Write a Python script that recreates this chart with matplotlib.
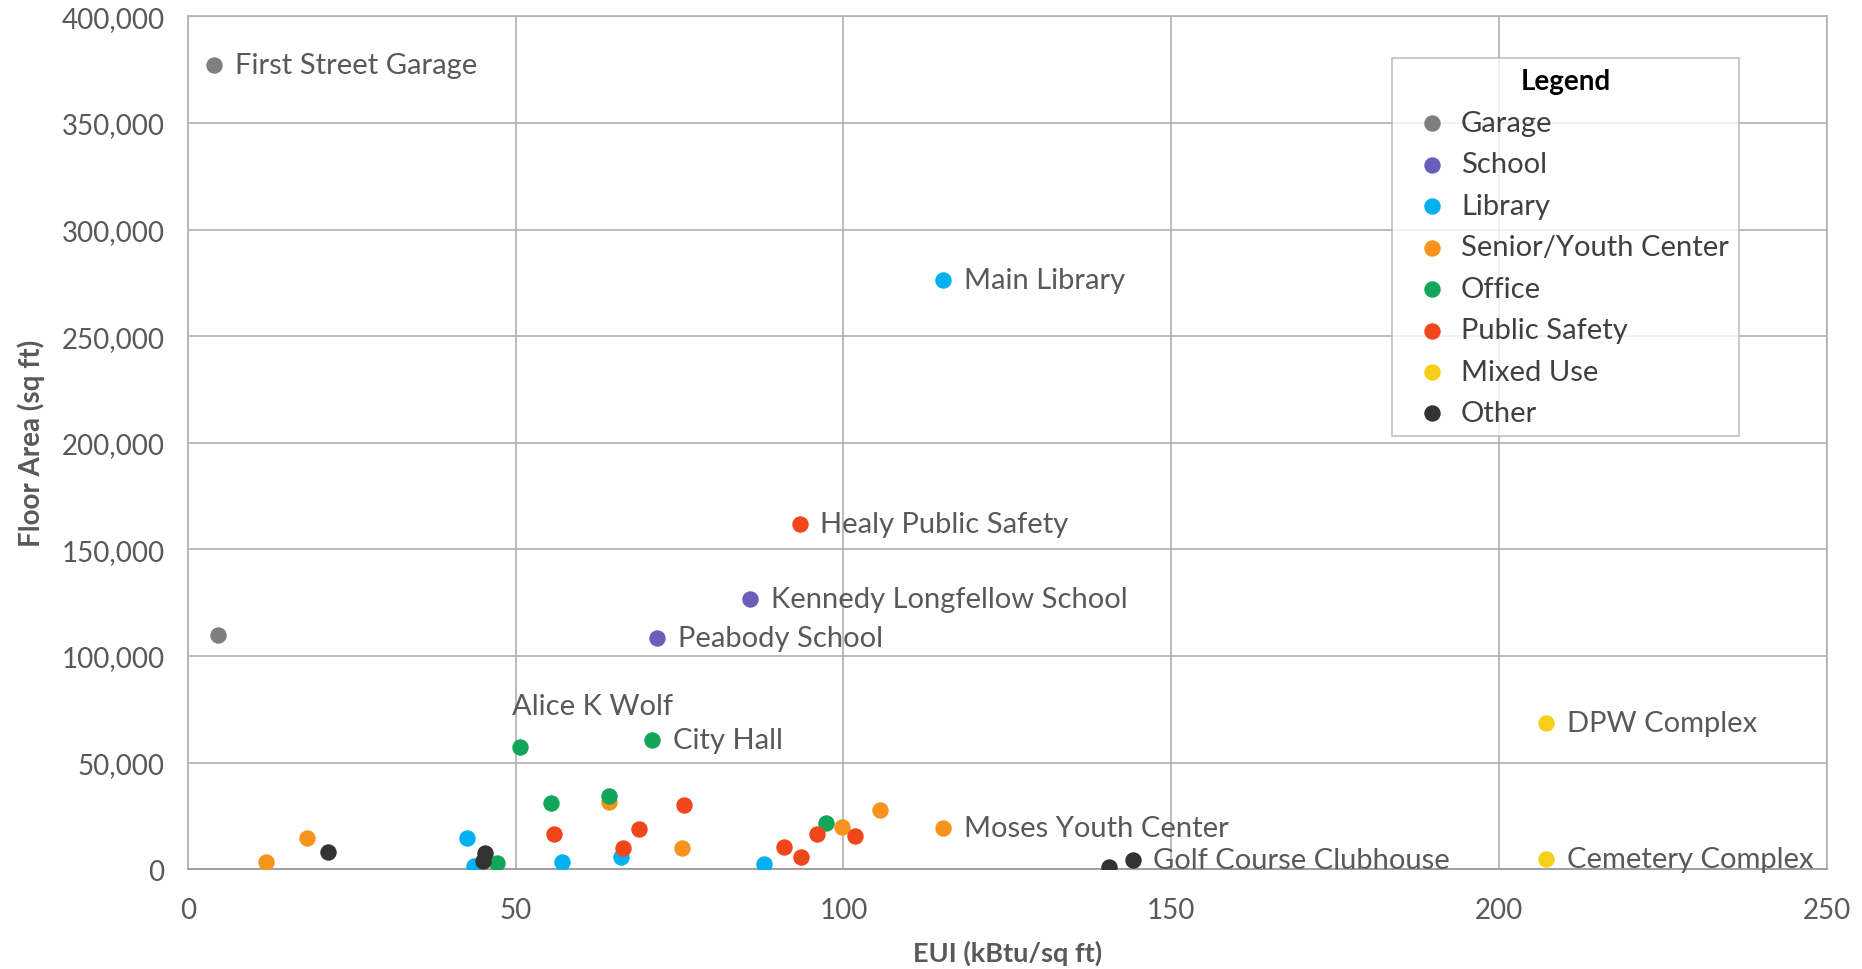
import matplotlib.pyplot as plt
from matplotlib.ticker import FuncFormatter

plt.rcParams['font.family'] = ['Lato', 'DejaVu Sans']

# building types and colours (legend order)
categories = ["Garage", "School", "Library", "Senior/Youth Center",
              "Office", "Public Safety", "Mixed Use", "Other"]
colors = ["#7f7f7f", "#6a5fb8", "#00b0f0", "#f7941d",
          "#13a65a", "#f0461c", "#f5cf1a", "#333333"]

# EUI (kBtu/sq ft), floor area (sq ft), label per building
garage_eui = [4.0, 4.5]
garage_area = [377000, 110000]
garage_lbl = ["First Street Garage", ""]

school_eui = [85.7, 71.6]
school_area = [126500, 108500]
school_lbl = ["Kennedy Longfellow School", "Peabody School"]

library_eui = [115.2, 42.5, 43.6, 57.0, 66.1, 87.8]
library_area = [276500, 14700, 1300, 3300, 5500, 2400]
library_lbl = ["Main Library", "", "", "", "", ""]

senior_eui = [11.9, 18.1, 64.2, 75.4, 99.7, 105.5, 115.2]
senior_area = [3200, 14400, 31300, 10000, 19800, 27800, 19200]
senior_lbl = ["", "", "", "", "", "", "Moses Youth Center"]

office_eui = [50.7, 70.8, 47.1, 55.4, 64.2, 97.4]
office_area = [57300, 60600, 2800, 31000, 34500, 21800]
office_lbl = ["Alice K Wolf", "City Hall", "", "", "", ""]

safety_eui = [93.3, 55.8, 66.3, 68.8, 75.7, 90.9, 93.5, 96.0, 101.8]
safety_area = [161900, 16300, 9700, 19000, 30200, 10300, 5900, 16600, 15300]
safety_lbl = ["Healy Public Safety", "", "", "", "", "", "", "", ""]

mixed_eui = [207.2, 207.2]
mixed_area = [68500, 4500]
mixed_lbl = ["DPW Complex", "Cemetery Complex"]

other_eui = [21.4, 45.3, 45.0, 140.5, 144.1]
other_area = [8100, 7500, 3800, 800, 4400]
other_lbl = ["", "", "", "", "Golf Course Clubhouse"]

series = [
    (garage_eui, garage_area, garage_lbl),
    (school_eui, school_area, school_lbl),
    (library_eui, library_area, library_lbl),
    (senior_eui, senior_area, senior_lbl),
    (office_eui, office_area, office_lbl),
    (safety_eui, safety_area, safety_lbl),
    (mixed_eui, mixed_area, mixed_lbl),
    (other_eui, other_area, other_lbl),
]

text_col = "#595959"

fig = plt.figure(figsize=(18.62, 9.70), dpi=100)
ax = fig.add_axes([0.101, 0.103, 0.880, 0.879])

for name, col, (xs, ys, lbls) in zip(categories, colors, series):
    ax.scatter(xs, ys, s=140, color=col, label=name, zorder=3, linewidths=0)
    for x, y, t in zip(xs, ys, lbls):
        if not t:
            continue
        if t == "Alice K Wolf":
            # this one sits above its point
            ax.annotate(t, (x, y), xytext=(-6, 20), textcoords="offset points",
                        ha="left", va="bottom", fontsize=21, color=text_col)
        else:
            ax.annotate(t, (x, y), xytext=(15, 0), textcoords="offset points",
                        ha="left", va="center", fontsize=21, color=text_col)

ax.set_xlim(0, 250)
ax.set_ylim(0, 400000)
ax.set_xticks([0, 50, 100, 150, 200, 250])
ax.set_yticks(range(0, 400001, 50000))
ax.yaxis.set_major_formatter(FuncFormatter(lambda v, p: f"{int(v):,}"))
ax.grid(True, color="#b0b0b0", linewidth=1.2, zorder=0)
ax.set_axisbelow(True)
for side in ["top", "right", "left"]:
    ax.spines[side].set_color("#b0b0b0")
    ax.spines[side].set_linewidth(1.2)
ax.spines["bottom"].set_color("#a0a0a0")
ax.spines["bottom"].set_linewidth(1.4)
ax.tick_params(length=0, labelsize=20, labelcolor=text_col)
ax.tick_params(axis="x", pad=20)
ax.tick_params(axis="y", pad=17)

ax.set_xlabel("EUI (kBtu/sq ft)", fontsize=19.5, fontweight="bold", color=text_col, labelpad=12)
ax.set_ylabel("Floor Area (sq ft)", fontsize=20, fontweight="bold", color=text_col, labelpad=12)

leg = ax.legend(title="Legend", loc="upper left", bbox_to_anchor=(0.735, 0.951),
                fontsize=21, title_fontproperties={"weight": "bold", "size": 20},
                frameon=True, fancybox=False, edgecolor="#b0b0b0",
                handlelength=2.0, handletextpad=0.0, labelspacing=0.53,
                borderpad=0.35, markerscale=1.0, borderaxespad=0)
leg.get_frame().set_linewidth(1.2)
for t in leg.get_texts():
    t.set_color("#404040")

plt.savefig("out.png", dpi=100)
